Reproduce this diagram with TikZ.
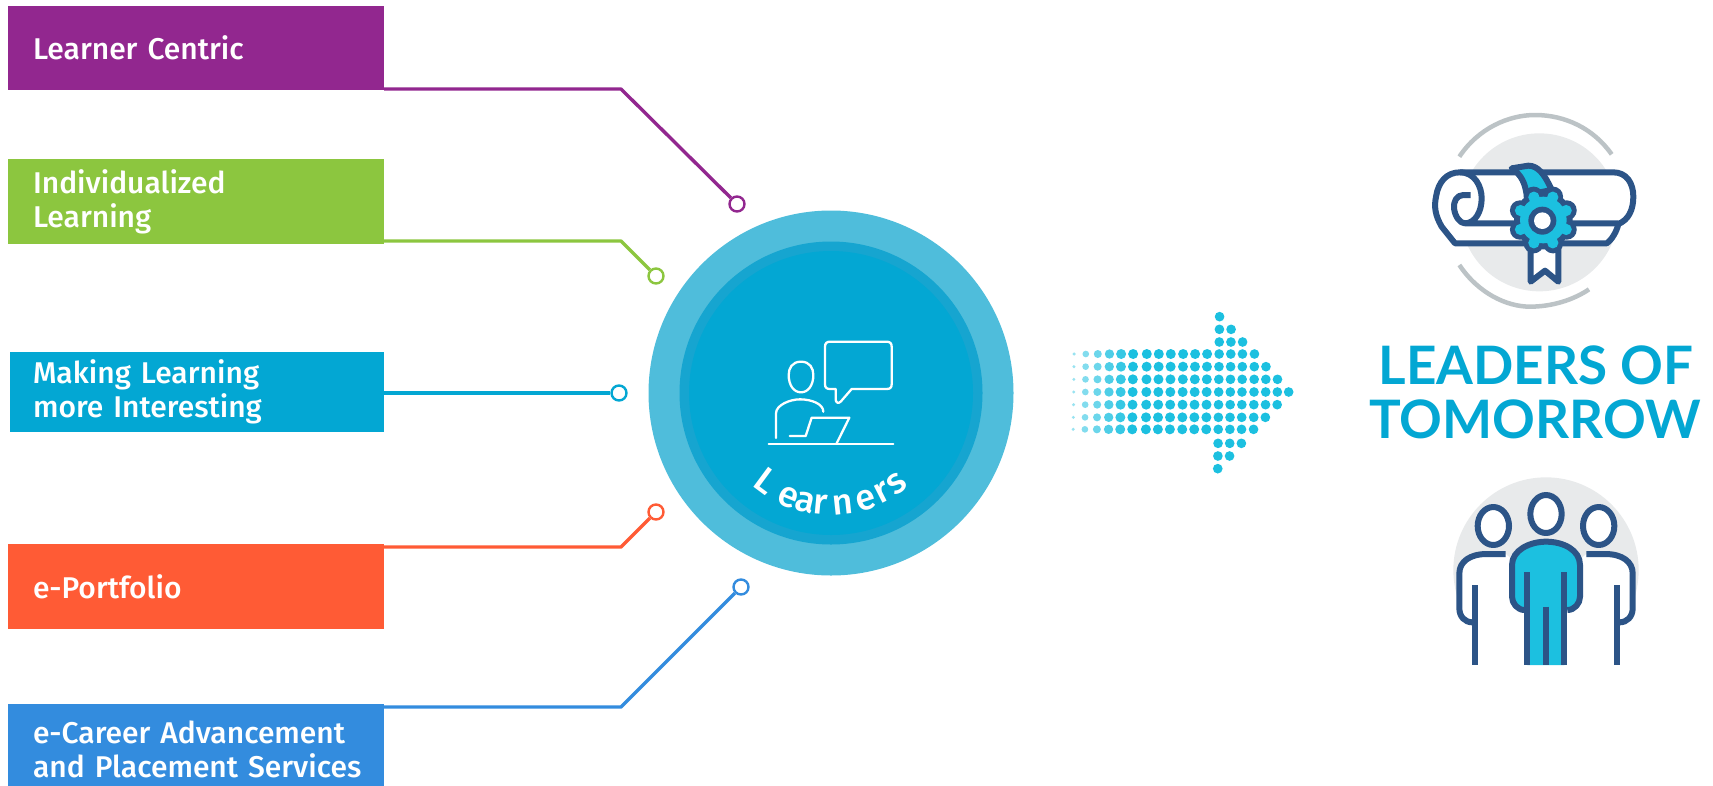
\documentclass[tikz,border=0pt]{standalone}
\usepackage{fontspec}
\setmainfont[Ligatures=NoCommon]{Fira Sans Medium}
\newfontfamily\titlefont{Lato}
\usetikzlibrary{calc}
\definecolor{cpurple}{HTML}{92278F}
\definecolor{cgreen}{HTML}{8CC63F}
\definecolor{cteal}{HTML}{03A7D3}
\definecolor{corange}{HTML}{FF5B35}
\definecolor{cblue}{HTML}{338CDE}
\definecolor{ringout}{HTML}{4FBDDB}
\definecolor{ringmid}{HTML}{16A5D0}
\definecolor{navy}{HTML}{2C5487}
\definecolor{aqua}{HTML}{1CC0E0}
\definecolor{discgray}{HTML}{E8EAEB}
\definecolor{arcgray}{HTML}{BCC3C6}
\tikzset{
  labelbox/.style={anchor=center,text=white,minimum width=#1,text width=#1-4pt,
    inner xsep=2pt,inner ysep=0pt,font=\fontsize{30}{34}\selectfont,
    execute at begin node={\leftskip=23pt\relax\rightskip=0pt plus 1fil\relax\hyphenpenalty=10000\relax}},
  terminal/.style={circle,draw=#1,fill=white,line width=2.4pt,minimum size=15pt,inner sep=0pt},
  link/.style={line width=3.4pt,line join=round},
  iconline/.style={draw=white,line width=2.3pt,line cap=round,line join=round},
  navyline/.style={draw=navy,line width=6pt,line join=round},
  arcletter/.style={anchor=base,text=white,inner sep=0pt,font=\fontsize{36}{36}\selectfont},
}
\begin{document}
\begin{tikzpicture}[x=1pt,y=-1pt]
\useasboundingbox (0,0) rectangle (1713,785);
\clip (0,0) rectangle (1713,785);
% left boxes
\node[labelbox=376pt,fill=cpurple,minimum height=84pt] (b1) at (196,48) {Learner Centric};
\node[labelbox=376pt,fill=cgreen,minimum height=85pt] (b2) at (196,201.5) {Individualized\\Learning};
\node[labelbox=374pt,fill=cteal,minimum height=80pt,execute at begin node={\leftskip=21pt\relax\rightskip=0pt plus 1fil\relax}] (b3) at (197,392) {Making Learning\\more Interesting};
\node[labelbox=376pt,fill=corange,minimum height=85pt] (b4) at (196,586.5) {e-Portfolio};
\node[labelbox=376pt,fill=cblue,minimum height=90pt] (b5) at (196,749) {e-Career Advancement\\and Placement Services};
% terminals and bends
\node[terminal=cpurple] (c1) at (737,204) {};
\node[terminal=cgreen] (c2) at (656,276) {};
\node[terminal=cteal] (c3) at (619,393) {};
\node[terminal=corange] (c4) at (656,512) {};
\node[terminal=cblue] (c5) at (741,587) {};
\coordinate (k1) at (621,89);
\coordinate (k2) at (621,241);
\coordinate (k4) at (621,547);
\coordinate (k5) at (621,707);
\draw[link,cpurple] (k1 -| b1.east) -- (k1) -- (c1);
\draw[link,cgreen] (k2 -| b2.east) -- (k2) -- (c2);
\draw[link,cteal] (c3 -| b3.east) -- (c3);
\draw[link,corange] (k4 -| b4.east) -- (k4) -- (c4);
\draw[link,cblue] (k5 -| b5.east) -- (k5) -- (c5);
% central circle
\fill[ringout] (831,393) circle (182.5);
\fill[ringmid] (831,393) circle (151.5);
\fill[cteal] (831,393) circle (142);
% learner icon
\begin{scope}[shift={(640,200)},x=1pt/3,y=-1pt/3]
  \draw[iconline] (483,485) .. controls (510,485) and (520,505) .. (520,525)
     .. controls (520,555) and (505,577) .. (483,577)
     .. controls (461,577) and (446,555) .. (446,525)
     .. controls (446,505) and (456,485) .. (483,485) -- cycle;
  \draw[iconline] (408,714) -- (408,640) .. controls (408,615) and (450,598) .. (480,598)
     .. controls (515,598) and (550,612) .. (550,635);
  \draw[iconline] (449,708) -- (497,708) -- (515,653) -- (628,653) -- (590,730);
  \draw[iconline] (386,732) -- (760,732);
  \draw[iconline] (570,425) -- (740,425) .. controls (750,425) and (755,430) .. (755,440)
     -- (755,553) .. controls (755,563) and (750,567) .. (740,567) -- (635,567)
     -- (602,605) .. controls (595,612) and (587,608) .. (587,598) -- (587,567) -- (570,567)
     .. controls (560,567) and (555,563) .. (555,553) -- (555,440)
     .. controls (555,430) and (560,425) .. (570,425) -- cycle;
\end{scope}
% curved label
\foreach \ch/\th [count=\i] in {L/-36.5,e/-22.4,a/-13.3,r/-5.3,n/6.2,e/18,r/27.1,s/36.1}{
  \node[arcletter,rotate=\th] (arc\i) at ({831+122*sin(\th)},{393+122*cos(\th)}) {\ch};
}
% dotted arrow
\begin{scope}[shift={(1050,300)},x=1pt/3,y=-1pt/3]
  \foreach \cx/\rr/\pct in {71/5/45,106/10/55,142/12/65,177/14/78,212/15/88,248/15/100,
     289/15/100,325/15/100,361/15/100,398/15/100,434/15/100,470/15/100}{
    \foreach \cy in {162,200,238,276,314,352,388}{
      \pgfmathsetmacro\sx{\cx-(\cy-276)*0.012}
      \fill[aqua!\pct!white] (\sx,\cy) circle (\rr pt/3);
    }
  }
  \foreach \cy/\last in {50/506,88/541,126/576,162/612,200/647,238/682,276/716,314/682,352/647,388/612,430/576,468/541,506/506}{
    \foreach \cx in {506,541,576,612,647,682,716}{
      \pgfmathparse{\cx<=\last?1:0}
      \ifnum\pgfmathresult>0
        \pgfmathsetmacro\sx{\cx-(\cy-276)*0.012}
        \fill[aqua] (\sx,\cy) circle (14.5pt/3);
      \fi
    }
  }
\end{scope}
% diploma
\begin{scope}[shift={(1410,100)},x=1pt/3,y=-1pt/3]
  \fill[discgray] (388,337) circle (237pt/3);
  \draw[arcgray,line width=4.5pt] (148,170) .. controls (205,85) and (295,45) .. (375,45)
     .. controls (465,45) and (550,85) .. (605,163);
  \draw[arcgray,line width=4.5pt] (148,495) .. controls (205,580) and (290,620) .. (360,620)
     .. controls (425,620) and (490,600) .. (537,568);
  \draw[navyline,fill=white] (150,217) -- (610,217) .. controls (650,217) and (670,250) .. (670,290)
     .. controls (670,330) and (655,360) .. (625,372) .. controls (620,395) and (605,420) .. (590,430)
     -- (135,430) -- (95,380) .. controls (75,345) and (72,320) .. (78,290)
     .. controls (85,245) and (110,217) .. (150,217) -- cycle;
  \draw[navyline] (150,217) .. controls (195,217) and (215,260) .. (215,295)
     .. controls (215,335) and (195,370) .. (165,370) -- (625,370);
  \draw[navyline] (182,285) -- (160,285) .. controls (140,285) and (130,305) .. (132,325)
     .. controls (135,350) and (150,370) .. (165,370);
  \draw[navyline,fill=aqua] (305,205) -- (355,197) .. controls (385,197) and (405,225) .. (425,270)
     -- (350,285) .. controls (345,250) and (335,225) .. (305,205) -- cycle;
  \draw[navyline,fill=white] (362,425) -- (362,545) -- (405,512) -- (445,545) -- (445,425);
  \foreach \ang in {22.5,67.5,...,337.5}{ \fill[navy] (400,360) ++(\ang:76) circle (30pt/3); }
  \fill[navy] (400,360) circle (88pt/3);
  \foreach \ang in {22.5,67.5,...,337.5}{ \fill[aqua] (400,360) ++(\ang:74) circle (17pt/3); }
  \fill[aqua] (400,360) circle (70pt/3);
  \fill[navy] (397,362) circle (42pt/3);
  \fill[white] (397,362) circle (25pt/3);
\end{scope}
% title
\node[anchor=base,text=cteal,font=\fontsize{53}{53}\titlefont\bfseries] (t1) at (1536,384) {LEADERS OF};
\node[anchor=base,text=cteal,font=\fontsize{53}{53}\titlefont\bfseries] (t2) at (1535,438) {TOMORROW};
% people
\begin{scope}[shift={(1430,465)},x=1pt/3,y=-1pt/3]
  \fill[discgray] (348,315) circle (278pt/3);
  \fill[white] (88,325) .. controls (88,290) and (120,267) .. (170,267) -- (227,267) -- (300,330) -- (300,605) -- (127,605) -- (127,472) .. controls (105,472) and (88,455) .. (88,430) -- cycle;
  \fill[white] (608,325) .. controls (608,290) and (576,267) .. (526,267) -- (469,267) -- (396,330) -- (396,605) -- (569,605) -- (569,472) .. controls (591,472) and (608,455) .. (608,430) -- cycle;
  \draw[navyline] (227,267) -- (170,267) .. controls (120,267) and (88,290) .. (88,325)
     -- (88,430) .. controls (88,455) and (105,472) .. (127,472);
  \draw[navyline] (135,360) -- (135,600);
  \draw[navyline] (469,267) -- (526,267) .. controls (576,267) and (608,290) .. (608,325)
     -- (608,430) .. controls (608,455) and (591,472) .. (569,472);
  \draw[navyline] (561,360) -- (561,600);
  \draw[navyline,fill=white] (190,183) ellipse [x radius=47,y radius=57];
  \draw[navyline,fill=white] (506,183) ellipse [x radius=47,y radius=57];
  \draw[navyline,fill=white] (348,147) ellipse [x radius=47,y radius=57];
  \fill[aqua] (292,600) -- (292,435) -- (275,435) .. controls (258,430) and (246,415) .. (246,395)
     -- (246,300) .. controls (246,255) and (300,230) .. (348,230)
     .. controls (400,230) and (450,255) .. (450,300) -- (450,395)
     .. controls (450,415) and (438,430) .. (421,435) -- (403,435) -- (403,600) -- cycle;
  \draw[navyline] (284,435) .. controls (262,435) and (246,415) .. (246,395)
     -- (246,300) .. controls (246,255) and (300,230) .. (348,230)
     .. controls (400,230) and (450,255) .. (450,300) -- (450,395)
     .. controls (450,415) and (434,435) .. (412,435);
  \draw[navyline] (292,322) -- (292,600);
  \draw[navyline] (403,322) -- (403,600);
  \draw[navyline] (348,425) -- (348,600);
\end{scope}
\end{tikzpicture}
\end{document}
